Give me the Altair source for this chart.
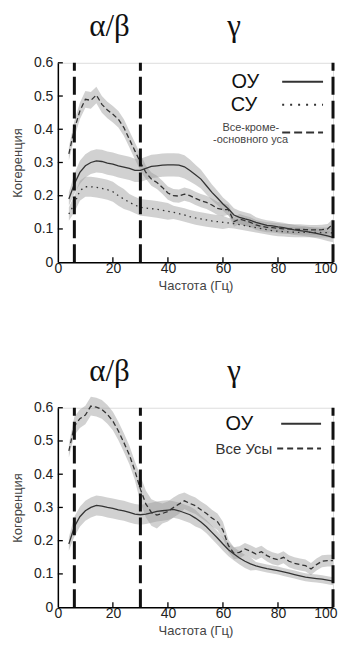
import altair as alt
import pandas as pd

# ---------------- data ----------------
freq = [4, 6, 8, 10, 12, 14, 16, 18, 20, 22, 24, 26, 28, 30, 32, 34, 36, 38, 40, 42,
        44, 46, 48, 50, 52, 54, 56, 58, 60, 62, 64, 66, 68, 70, 72, 74, 76, 78, 80,
        82, 84, 86, 88, 90, 92, 94, 96, 98, 100]

# top panel
top_main = [0.19, 0.235, 0.27, 0.29, 0.30, 0.305, 0.303, 0.298, 0.295, 0.29, 0.286, 0.282,
            0.276, 0.276, 0.282, 0.288, 0.29, 0.292, 0.293, 0.293, 0.292, 0.287, 0.276,
            0.263, 0.25, 0.23, 0.21, 0.193, 0.175, 0.16, 0.142, 0.135, 0.13, 0.126, 0.12,
            0.115, 0.111, 0.109, 0.106, 0.104, 0.10, 0.097, 0.095, 0.093, 0.09, 0.087,
            0.083, 0.079, 0.075]
top_main_err = [0.02, 0.03, 0.035, 0.035, 0.035, 0.035, 0.035, 0.035, 0.035, 0.035, 0.035,
                0.035, 0.035, 0.035, 0.035, 0.035, 0.035, 0.035, 0.035, 0.035, 0.035,
                0.035, 0.033, 0.03, 0.028, 0.026, 0.024, 0.022, 0.02, 0.02, 0.02, 0.02,
                0.02, 0.02, 0.015, 0.015, 0.015, 0.015, 0.015, 0.015, 0.015, 0.015, 0.015,
                0.015, 0.015, 0.015, 0.015, 0.015, 0.015]
top_adj = [0.145, 0.175, 0.215, 0.227, 0.227, 0.225, 0.222, 0.218, 0.212, 0.20, 0.19, 0.18,
           0.172, 0.165, 0.163, 0.161, 0.159, 0.156, 0.153, 0.15, 0.146, 0.142, 0.137,
           0.133, 0.13, 0.127, 0.124, 0.122, 0.12, 0.118, 0.116, 0.113, 0.11, 0.107, 0.104,
           0.101, 0.098, 0.095, 0.093, 0.092, 0.091, 0.09, 0.09, 0.09, 0.09, 0.09, 0.089,
           0.089, 0.088]
top_adj_err = [0.02, 0.025, 0.03, 0.03, 0.03, 0.03, 0.03, 0.03, 0.03, 0.03, 0.03, 0.025,
               0.025, 0.025, 0.025, 0.025, 0.025, 0.025, 0.025, 0.02, 0.02, 0.02, 0.02,
               0.02, 0.02, 0.02, 0.02, 0.02, 0.02, 0.015, 0.015, 0.015, 0.015, 0.015, 0.015,
               0.015, 0.015, 0.015, 0.015, 0.015, 0.015, 0.015, 0.015, 0.015, 0.015, 0.015,
               0.015, 0.015, 0.015]
top_other = [0.326, 0.40, 0.455, 0.49, 0.487, 0.503, 0.475, 0.458, 0.445, 0.43, 0.405, 0.37,
             0.335, 0.30, 0.27, 0.25, 0.24, 0.225, 0.208, 0.20, 0.199, 0.205, 0.20, 0.192,
             0.185, 0.18, 0.172, 0.162, 0.158, 0.158, 0.122, 0.13, 0.125, 0.12, 0.112,
             0.108, 0.105, 0.104, 0.102, 0.10, 0.10, 0.099, 0.099, 0.098, 0.097, 0.097,
             0.098, 0.10, 0.115]
top_other_err = [0.02, 0.025, 0.025, 0.025, 0.025, 0.025, 0.025, 0.025, 0.025, 0.025, 0.025,
                 0.025, 0.025, 0.025, 0.02, 0.02, 0.02, 0.02, 0.02, 0.02, 0.02, 0.02, 0.02,
                 0.02, 0.02, 0.02, 0.02, 0.02, 0.02, 0.015, 0.015, 0.015, 0.015, 0.015,
                 0.015, 0.015, 0.015, 0.015, 0.015, 0.015, 0.015, 0.015, 0.015, 0.015,
                 0.015, 0.015, 0.015, 0.015, 0.015]

# bottom panel
bot_main = [0.19, 0.242, 0.272, 0.29, 0.30, 0.306, 0.304, 0.30, 0.297, 0.293, 0.29, 0.285,
            0.28, 0.278, 0.28, 0.284, 0.288, 0.29, 0.292, 0.294, 0.29, 0.284, 0.278, 0.268,
            0.256, 0.242, 0.225, 0.208, 0.19, 0.173, 0.16, 0.148, 0.138, 0.13, 0.124, 0.12,
            0.116, 0.113, 0.11, 0.106, 0.102, 0.098, 0.094, 0.09, 0.088, 0.086, 0.084,
            0.081, 0.078]
bot_main_err = [0.02, 0.03, 0.03, 0.03, 0.03, 0.03, 0.03, 0.03, 0.03, 0.03, 0.03, 0.03,
                0.03, 0.03, 0.03, 0.03, 0.03, 0.03, 0.03, 0.025, 0.025, 0.025, 0.025, 0.025,
                0.02, 0.02, 0.02, 0.02, 0.02, 0.02, 0.02, 0.02, 0.02, 0.02, 0.012, 0.012,
                0.012, 0.012, 0.012, 0.012, 0.012, 0.012, 0.012, 0.012, 0.012, 0.012,
                0.012, 0.012, 0.012]
bot_all = [0.47, 0.545, 0.567, 0.578, 0.605, 0.602, 0.595, 0.58, 0.56, 0.53, 0.495, 0.458,
           0.41, 0.355, 0.31, 0.285, 0.277, 0.282, 0.288, 0.30, 0.31, 0.32, 0.312, 0.305,
           0.293, 0.282, 0.268, 0.257, 0.232, 0.185, 0.162, 0.165, 0.175, 0.168, 0.16,
           0.167, 0.155, 0.147, 0.143, 0.15, 0.138, 0.132, 0.128, 0.125, 0.115, 0.128,
           0.138, 0.14, 0.14]
bot_all_err = [0.02, 0.028, 0.028, 0.028, 0.028, 0.028, 0.028, 0.028, 0.028, 0.028, 0.028,
               0.028, 0.028, 0.04, 0.04, 0.04, 0.04, 0.03, 0.03, 0.03, 0.03, 0.025, 0.025,
               0.025, 0.025, 0.025, 0.025, 0.025, 0.025, 0.018, 0.018, 0.018, 0.018, 0.018,
               0.018, 0.018, 0.018, 0.018, 0.018, 0.018, 0.018, 0.018, 0.018, 0.018, 0.018,
               0.018, 0.018, 0.018, 0.018]

band_edges = [6, 30, 100]
band_names = ["α/β", "γ"]
band_name_pos = [18.8, 64]
x_ticks = [0, 20, 40, 60, 80, 100]
y_ticks = [0, 0.1, 0.2, 0.3, 0.4, 0.5, 0.6]

FONT = "Liberation Sans"
DARK = "#333333"
W, H = 276, 200


def series_df(values, errs, name):
    return pd.DataFrame({
        "f": freq, "c": values,
        "lo": [v - e for v, e in zip(values, errs)],
        "hi": [v + e for v, e in zip(values, errs)],
        "s": name,
    })


xs = alt.Scale(domain=[0, 100], nice=False)
ys = alt.Scale(domain=[0, 0.6], nice=False)

x_axis = alt.Axis(values=x_ticks, ticks=False, grid=False, domainColor="black",
                  domainWidth=1.5, labelFont=FONT, labelFontSize=14, labelColor="#222",
                  labelPadding=-1, labelOverlap=False, labelBound=False, labelFlush=False,
                  labelAlign=alt.ExprRef("datum.value == 100 ? 'right' : 'center'"),
                  labelOffset=alt.ExprRef("datum.value == 100 ? 4 : 0"),
                  title="Частота (Гц)", titleFont=FONT, titleFontSize=13,
                  titleFontWeight="normal", titleColor="#444", titlePadding=4)
y_axis = alt.Axis(values=y_ticks, ticks=False, grid=False, domainColor="black",
                  domainWidth=1.5, labelFont=FONT, labelFontSize=14, labelColor="#222",
                  labelPadding=5, labelOverlap=False, labelBound=False, labelFlush=False,
                  format=".1~f",
                  title="Когеренция", titleFont=FONT, titleFontSize=13,
                  titleFontWeight="normal", titleColor="#444", titlePadding=9)


def X(field):
    return alt.X(field, scale=xs, axis=x_axis)


def Y(field):
    return alt.Y(field, scale=ys, axis=y_axis)


def panel(series, legend):
    layers = []
    # bands
    for df, dash in series:
        layers.append(alt.Chart(df).mark_area(color="#999999", opacity=0.45).encode(
            x=X("f:Q"), y=Y("lo:Q"), y2="hi:Q"))
    # lines
    for df, dash in series:
        kw = {} if dash is None else {"strokeDash": dash}
        layers.append(alt.Chart(df).mark_line(color=DARK, strokeWidth=1.3, **kw).encode(
            x=X("f:Q"), y=Y("c:Q")))
    # inward ticks
    ytk = pd.DataFrame({"v": y_ticks[1:]})
    layers.append(alt.Chart(ytk).mark_rule(color="black", strokeWidth=1.3).encode(
        y=Y("v:Q"), x=alt.value(0), x2=alt.value(5)))
    xtk = pd.DataFrame({"v": x_ticks[1:-1]})
    layers.append(alt.Chart(xtk).mark_rule(color="black", strokeWidth=1.3).encode(
        x=X("v:Q"), y=alt.value(H), y2=alt.value(H - 5)))
    # band separators
    sep = pd.DataFrame({"f": band_edges, "lo": [0] * 3, "hi": [0.6] * 3})
    layers.append(alt.Chart(sep).mark_rule(color="#111111", strokeWidth=3,
                                           strokeDash=[18, 6]).encode(
        x=X("f:Q"), y=Y("lo:Q"), y2="hi:Q"))
    # band names
    nm = pd.DataFrame({"f": band_name_pos, "t": band_names})
    layers.append(alt.Chart(nm).mark_text(font="Liberation Serif", fontSize=31,
                                          baseline="middle", color="#111").encode(
        x=X("f:Q"), y=alt.value(-36), text="t:N"))
    # legend
    for item in legend:
        lines, tx, ty, size, color, sx1, sx2, sdash = item
        for k, ln in enumerate(lines):
            layers.append(alt.Chart(pd.DataFrame({"t": [ln]})).mark_text(
                font=FONT, fontSize=size, color=color, align="right",
                baseline="middle").encode(
                text="t:N", x=alt.value(tx[k]), y=alt.value(ty + k * 12)))
        kw = {} if sdash is None else {"strokeDash": sdash}
        layers.append(alt.Chart(pd.DataFrame({"a": [0]})).mark_rule(
            color=DARK, strokeWidth=2, **kw).encode(
            x=alt.value(sx1), x2=alt.value(sx2), y=alt.value(ty + (len(lines) - 1) * 5)))
    return alt.layer(*layers).properties(width=W, height=H)


top = panel(
    [(series_df(top_main, top_main_err, "ОУ"), None),
     (series_df(top_adj, top_adj_err, "СУ"), [1.5, 4]),
     (series_df(top_other, top_other_err, "Все-кроме-основного уса"), [5, 3])],
    [(["ОУ"], [202], 19, 20, "#111", 225, 266, None),
     (["СУ"], [200], 42, 20, "#111", 225, 266, [2, 6]),
     (["Все-кроме-", "-основного уса"], [222, 231], 65, 11, "#444", 225, 266, [8, 4])],
)
bottom = panel(
    [(series_df(bot_main, bot_main_err, "ОУ"), None),
     (series_df(bot_all, bot_all_err, "Все Усы"), [5, 3])],
    [(["ОУ"], [196], 16, 20, "#111", 224, 264, None),
     (["Все Усы"], [215], 41, 15, "#333", 220, 264, [6, 4])],
)

chart = alt.vconcat(top, bottom, spacing=62,
                    padding={"left": 3, "top": 1, "right": 0, "bottom": 0}).configure_view(
    stroke=None).configure(background="white")
chart.save("out.html", embed_options={"renderer": "svg", "actions": False})
